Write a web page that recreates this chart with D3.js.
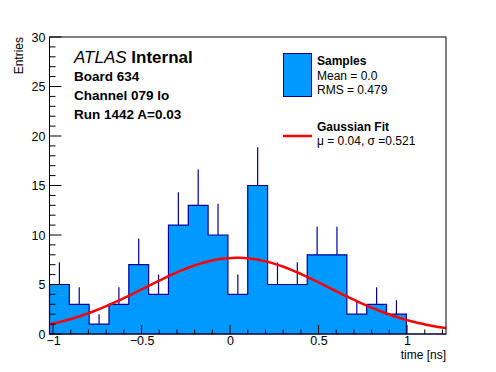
<!DOCTYPE html>
<html>
<head>
<meta charset="utf-8">
<script src="https://cdn.jsdelivr.net/npm/d3@7"></script>
<style>
  body { margin: 0; background: #fff; }
  text { font-family: "Liberation Sans", Arial, sans-serif; }
</style>
</head>
<body>
<svg></svg>
<script>
// histogram: 20 bins from -1.02 to 1.22
var binLow = -1.02, binHigh = 1.22, nBins = 20;
var counts = [5, 3, 1, 3, 7, 4, 11, 13, 10, 4, 15, 5, 5, 8, 8, 2, 3, 2, 0, 0];
var xTicks = [-1, -0.5, 0, 0.5, 1];
var yTicks = [0, 5, 10, 15, 20, 25, 30];
// gaussian fit parameters
var fitConst = 7.7, fitMean = 0.04, fitSigma = 0.521;
var infoLines = ["Board 634", "Channel 079 lo", "Run 1442 A=0.03"];

var svgWidth = 496, svgHeight = 372;
var padL = 49.5, padR = 446, padT = 37, padB = 334;

var svg = d3.select("svg")
    .attr("width", svgWidth)
    .attr("height", svgHeight);

var x = d3.scaleLinear().domain([binLow, binHigh]).range([padL, padR]);
var y = d3.scaleLinear().domain([0, 30]).range([padB, padT]);

var binWidth = (binHigh - binLow) / nBins;
var bins = counts.map(function(c, i) {
    return { x0: binLow + i * binWidth, x1: binLow + (i + 1) * binWidth, n: c };
});

// filled histogram as a step path
var step = "M" + x(binLow) + "," + y(0);
bins.forEach(function(b) {
    step += "L" + x(b.x0) + "," + y(b.n) + "L" + x(b.x1) + "," + y(b.n);
});
step += "L" + x(binHigh) + "," + y(0) + "Z";

svg.append("path")
    .attr("d", step)
    .attr("fill", "#0099ff")
    .attr("stroke", "#000099")
    .attr("stroke-width", 1.2);

// error bars (upward part)
svg.selectAll("line.err")
    .data(bins.filter(function(b) { return b.n > 0; }))
    .enter()
    .append("line")
    .attr("class", "err")
    .attr("x1", function(d) { return x((d.x0 + d.x1) / 2); })
    .attr("x2", function(d) { return x((d.x0 + d.x1) / 2); })
    .attr("y1", function(d) { return y(d.n); })
    .attr("y2", function(d) { return y(d.n + Math.sqrt(d.n)); })
    .attr("stroke", "#000099")
    .attr("stroke-width", 1.2);

// fit curve
var fx = d3.range(101).map(function(i) { return binLow + i * (binHigh - binLow) / 100; });
var gaus = function(v) {
    return fitConst * Math.exp(-0.5 * Math.pow((v - fitMean) / fitSigma, 2));
};
svg.append("path")
    .datum(fx)
    .attr("d", d3.line().x(function(d) { return x(d); }).y(function(d) { return y(gaus(d)); }))
    .attr("fill", "none")
    .attr("stroke", "#ff0000")
    .attr("stroke-width", 2.5);

// frame
svg.append("rect")
    .attr("x", padL).attr("y", padT)
    .attr("width", padR - padL).attr("height", padB - padT)
    .attr("fill", "none")
    .attr("stroke", "#000")
    .attr("stroke-width", 1);

// x axis
var xAxis = d3.axisBottom(x).tickValues(xTicks).tickSize(0).tickPadding(2)
    .tickFormat(function(d) { return d3.format("")(d).replace("-", "\u2212"); });
var gx = svg.append("g").attr("transform", "translate(0," + padB + ")").call(xAxis);
gx.select(".domain").remove();
gx.selectAll("text").style("font-size", "12.5px").attr("fill", "#000");
var xMinor = d3.range(-10, 13).map(function(i) { return i / 10; });
svg.selectAll("line.xt")
    .data(xMinor)
    .enter()
    .append("line")
    .attr("x1", function(d) { return x(d); })
    .attr("x2", function(d) { return x(d); })
    .attr("y1", padB)
    .attr("y2", function(d, i) { return padB - (i % 5 == 0 ? 9 : 4.5); })
    .attr("stroke", "#000");

// y axis
var yAxis = d3.axisLeft(y).tickValues(yTicks).tickSize(0).tickPadding(4);
var gy = svg.append("g").attr("transform", "translate(" + padL + ",0)").call(yAxis);
gy.select(".domain").remove();
gy.selectAll("text").style("font-size", "12.5px").attr("fill", "#000");
svg.selectAll("line.yt")
    .data(d3.range(0, 31))
    .enter()
    .append("line")
    .attr("x1", padL)
    .attr("x2", function(d) { return padL + (d % 5 == 0 ? 12 : 6); })
    .attr("y1", function(d) { return y(d); })
    .attr("y2", function(d) { return y(d); })
    .attr("stroke", "#000");

// axis titles
svg.append("text")
    .attr("transform", "translate(23," + padT + ") rotate(-90)")
    .attr("text-anchor", "end")
    .style("font-size", "12px")
    .text("Entries");
svg.append("text")
    .attr("x", padR).attr("y", 359)
    .attr("text-anchor", "end")
    .style("font-size", "12px")
    .text("time [ns]");

// ATLAS label
var atlas = svg.append("text").attr("x", 74).attr("y", 63).style("font-size", "17px");
atlas.append("tspan").style("font-style", "italic").text("ATLAS ");
atlas.append("tspan").style("font-weight", "bold").text("Internal");
svg.selectAll("text.info")
    .data(infoLines)
    .enter()
    .append("text")
    .attr("class", "info")
    .attr("x", 74)
    .attr("y", function(d, i) { return 81 + i * 19; })
    .style("font-size", "13.5px")
    .style("font-weight", "bold")
    .text(function(d) { return d; });

// legend
svg.append("rect")
    .attr("x", 283.5).attr("y", 53.5)
    .attr("width", 28).attr("height", 43)
    .attr("fill", "#0099ff")
    .attr("stroke", "#000099")
    .attr("stroke-width", 1);
svg.append("line")
    .attr("x1", 283).attr("x2", 312)
    .attr("y1", 136).attr("y2", 136)
    .attr("stroke", "#ff0000")
    .attr("stroke-width", 2.5);
var legendText = [
    { t: "Samples", yy: 65, b: true },
    { t: "Mean = 0.0", yy: 80, b: false },
    { t: "RMS = 0.479", yy: 93.5, b: false },
    { t: "Gaussian Fit", yy: 131, b: true },
    { t: "\u03bc = 0.04, \u03c3 =0.521", yy: 145, b: false }
];
svg.selectAll("text.leg")
    .data(legendText)
    .enter()
    .append("text")
    .attr("x", 317)
    .attr("y", function(d) { return d.yy; })
    .style("font-size", "12px")
    .style("font-weight", function(d) { return d.b ? "bold" : "normal"; })
    .text(function(d) { return d.t; });
</script>
</body>
</html>
